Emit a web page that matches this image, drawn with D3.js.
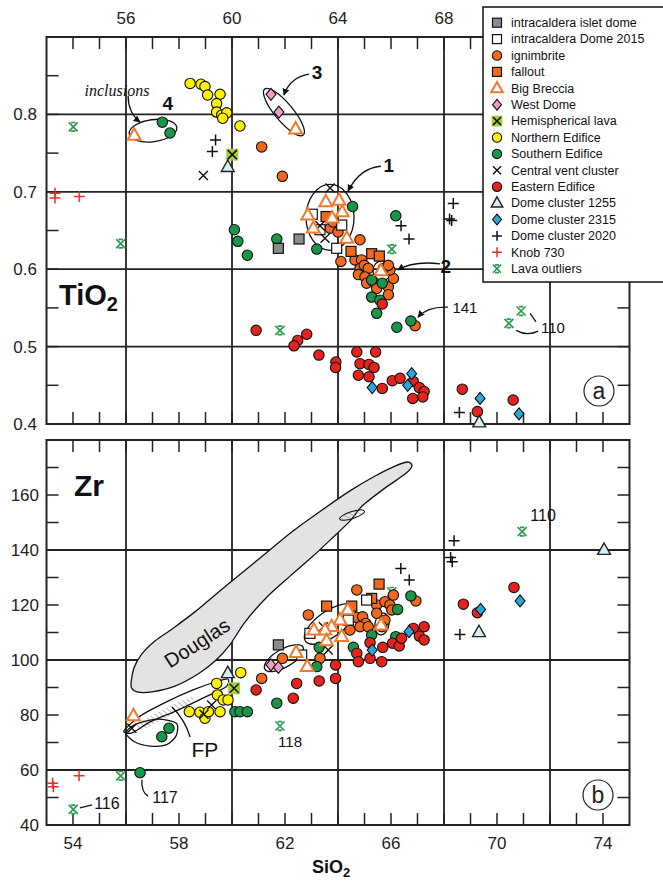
<!DOCTYPE html>
<html>
<head>
<meta charset="utf-8">
<script src="https://cdn.jsdelivr.net/npm/d3@7"></script>
<style>
  body { margin: 0; background: #fff; }
  svg { display: block; font-family: "Liberation Sans", Arial, sans-serif; }
</style>
</head>
<body>
<div id="chart"></div>
<script>
/* SiO2 variation diagrams: TiO2 (a) and Zr (b) */

// ---- data: [SiO2, TiO2] ----
const isletTi = [[62.53, 0.639], [61.75, 0.627]];
const dome2015Ti = [[63.03, 0.671], [64.14, 0.657], [63.95, 0.627], [63.32, 0.651]];
const ignimbriteTi = [[61.12, 0.758], [61.90, 0.720], [63.70, 0.653], [63.81, 0.661], [64.00, 0.648],
  [64.11, 0.610], [64.83, 0.638], [64.64, 0.612], [64.89, 0.612], [64.83, 0.601], [64.99, 0.605],
  [65.14, 0.601], [64.77, 0.593], [65.02, 0.590], [65.08, 0.582], [65.33, 0.584], [65.46, 0.575],
  [65.90, 0.577], [65.90, 0.567], [66.09, 0.588], [65.96, 0.599], [65.71, 0.601], [65.90, 0.605],
  [66.91, 0.527]];
const falloutTi = [[63.55, 0.668], [64.49, 0.623], [65.27, 0.620], [65.56, 0.617]];
const bigBrecciaTi = [[56.31, 0.773], [62.40, 0.781], [63.54, 0.687], [64.04, 0.689], [64.16, 0.674],
  [63.78, 0.666], [62.86, 0.670], [63.07, 0.653], [64.33, 0.640], [65.62, 0.598]];
const westDomeTi = [[61.47, 0.826], [61.77, 0.803]];
const hemiTi = [[60.01, 0.748]];
const northernTi = [[58.42, 0.840], [58.83, 0.839], [58.98, 0.836], [59.08, 0.825], [59.55, 0.826],
  [59.42, 0.814], [59.42, 0.803], [59.61, 0.799], [59.80, 0.802], [59.65, 0.795], [60.30, 0.785]];
const southernTi = [[57.37, 0.790], [57.66, 0.776], [60.09, 0.651], [60.22, 0.636], [60.58, 0.618],
  [61.69, 0.639], [63.20, 0.626], [64.55, 0.681], [66.18, 0.669], [65.27, 0.586], [65.67, 0.582],
  [65.27, 0.564], [65.58, 0.560], [65.46, 0.543], [66.22, 0.525], [66.75, 0.533]];
const centralTi = [[58.92, 0.721], [63.70, 0.705], [63.51, 0.640], [63.32, 0.656]];
const easternTi = [[60.91, 0.521], [62.48, 0.508], [62.82, 0.516], [62.34, 0.501], [63.28, 0.489],
  [63.92, 0.480], [63.91, 0.473], [64.71, 0.493], [65.42, 0.493], [64.83, 0.478], [65.17, 0.477],
  [65.36, 0.473], [64.77, 0.463], [65.17, 0.461], [65.67, 0.446], [66.05, 0.456], [66.34, 0.459],
  [66.84, 0.455], [67.07, 0.447], [67.25, 0.442], [67.20, 0.435], [66.82, 0.433], [65.67, 0.555],
  [68.69, 0.445], [70.61, 0.431], [69.26, 0.416]];
const dome1255Ti = [[59.84, 0.732], [69.33, 0.402]];
const dome2315Ti = [[65.29, 0.447], [66.78, 0.465], [66.63, 0.450], [69.36, 0.433], [70.83, 0.413]];
const dome2020Ti = [[59.38, 0.767], [59.26, 0.752], [66.38, 0.656], [66.68, 0.639], [68.35, 0.685],
  [68.29, 0.663], [68.21, 0.665], [68.58, 0.415]];
const knobTi = [[53.32, 0.698], [53.32, 0.692], [54.24, 0.694]];
const lavaTi = [[54.01, 0.784], [55.80, 0.633], [61.81, 0.521], [66.03, 0.626], [70.91, 0.546], [70.45, 0.530]];

// ---- data: [SiO2, Zr] ----
const isletZr = [[61.75, 105.5]];
const dome2015Zr = [[62.94, 109.7], [64.39, 114.5], [65.08, 121.8], [62.63, 101.8]];
const ignimbriteZr = [[61.12, 93.3], [61.90, 100.6], [62.88, 116.4], [63.32, 100.6], [64.71, 125.5],
  [64.71, 115.5], [64.93, 115.7], [65.05, 113.3], [64.83, 112.1], [65.14, 112.1], [65.46, 120.0],
  [65.77, 121.2], [65.96, 120.0], [66.03, 118.2], [65.46, 117.0], [65.77, 114.5], [65.65, 112.1],
  [66.94, 121.5], [66.09, 123.6], [64.45, 110.9]];
const falloutZr = [[65.55, 127.6], [65.27, 122.4], [63.57, 119.6], [64.52, 119.6]];
const bigBrecciaZr = [[56.28, 79.7], [62.42, 102.7], [62.84, 97.6], [64.37, 118.2], [64.08, 114.5],
  [63.76, 112.1], [63.51, 110.9], [63.09, 110.9], [63.57, 107.0], [64.14, 108.5], [65.62, 112.7]];
const westDomeZr = [[61.47, 98.2], [61.75, 97.3]];
const hemiZr = [[60.08, 89.7]];
const northernZr = [[58.39, 81.2], [58.79, 81.0], [58.98, 78.8], [59.11, 81.2], [59.42, 91.5],
  [59.45, 87.3], [59.67, 85.5], [59.55, 81.2], [60.33, 95.4], [59.85, 85.5]];
const southernZr = [[56.53, 59.0], [57.35, 72.1], [57.62, 75.2], [60.11, 81.2], [60.30, 81.2],
  [60.58, 81.2], [61.69, 84.3], [63.20, 97.6], [63.29, 104.6], [64.58, 104.6], [65.27, 109.1],
  [66.18, 108.5], [66.25, 118.4], [66.75, 123.3]];
const centralZr = [[56.22, 75.2], [58.94, 80.3], [59.23, 83.6], [63.63, 103.6], [63.45, 112.1]];
const easternZr = [[60.91, 89.1], [62.31, 86.1], [62.44, 91.5], [63.29, 92.4], [63.91, 98.2],
  [63.91, 93.3], [64.71, 102.4], [64.77, 99.4], [65.21, 100.6], [65.65, 99.4], [65.69, 104.6],
  [65.21, 106.3], [66.06, 106.1], [66.31, 105.1], [66.40, 107.9], [66.84, 111.5], [67.07, 108.7],
  [67.25, 112.1], [67.25, 107.3], [70.64, 126.4], [68.73, 120.3], [69.26, 117.2]];
const dome1255Zr = [[59.84, 95.2], [74.04, 140.0], [69.32, 110.1]];
const dome2315Zr = [[65.29, 103.6], [66.68, 110.3], [70.87, 121.5], [69.38, 118.4]];
const dome2020Zr = [[66.37, 133.3], [66.69, 129.1], [68.38, 143.4], [68.25, 137.3], [68.31, 135.7], [68.60, 109.3]];
const knobZr = [[53.23, 55.2], [53.26, 53.9], [54.23, 57.9]];
const lavaZr = [[54.01, 45.7], [55.80, 57.9], [61.81, 76.0], [66.03, 124.8], [70.95, 146.7]];

// ---- envelopes (SiO2, Zr) ----
const douglasZr = [[56.19, 90.5], [56.30, 97.1], [56.60, 102.2], [57.09, 106.9], [57.74, 111.3],
  [58.60, 117.5], [59.81, 127.3], [61.06, 137.1], [62.30, 146.9], [63.51, 155.3], [64.45, 161.5],
  [65.40, 166.9], [66.15, 170.5], [66.64, 172.0], [66.79, 170.5], [66.53, 167.6], [65.77, 162.5],
  [64.91, 156.0], [64.45, 150.5], [63.70, 143.6], [63.06, 137.8], [62.19, 130.5], [61.32, 122.9],
  [60.49, 113.8], [59.92, 105.5], [59.36, 99.6], [58.72, 94.9], [57.85, 90.5], [56.98, 88.4], [56.42, 88.4]];
const fpZr = [[55.92, 74.2], [56.53, 79.6], [57.51, 84.7], [58.53, 89.1], [59.36, 92.0], [59.85, 93.1],
  [59.77, 90.2], [58.98, 86.5], [57.96, 81.8], [56.91, 77.5], [56.23, 73.5]];
const fpHatchZr = [[56.4, 76.5], [57.2, 81.0], [58.1, 85.2], [58.6, 86.8], [58.3, 83.5], [57.5, 79.0], [56.7, 75.0]];
const inclusionLoopZr = [[56.0, 73.5], [56.34, 70.2], [56.91, 68.7], [57.51, 69.1], [57.89, 72.4], [57.9, 77.0], [57.2, 78.5], [56.4, 76.8]];

// ---- axis ticks ----
const xLabelsTop = [56, 60, 64, 68];
const xLabelsBottom = [54, 58, 62, 66, 70, 74];
const xGrid = [56, 60, 64, 68, 72];
const tiLabels = [0.4, 0.5, 0.6, 0.7, 0.8];
const tiGrid = [0.5, 0.6, 0.7, 0.8];
const zrLabels = [40, 60, 80, 100, 120, 140, 160];
const zrGrid = [60, 100, 140];

const legendNames = ["intracaldera islet dome", "intracaldera Dome 2015", "ignimbrite", "fallout",
  "Big Breccia", "West Dome", "Hemispherical lava", "Northern Edifice", "Southern Edifice",
  "Central vent cluster", "Eastern Edifice", "Dome cluster 1255", "Dome cluster 2315",
  "Dome cluster 2020", "Knob 730", "Lava outliers"];

// ---- layout ----
const W = 663, H = 883;
const svg = d3.select("#chart").append("svg").attr("width", W).attr("height", H);

const x = d3.scaleLinear().domain([53, 75]).range([46.5, 629.5]);
const yTi = d3.scaleLinear().domain([0.4, 0.9]).range([424, 37]);
const yZr = d3.scaleLinear().domain([40, 180]).range([825, 440]);

const defs = svg.append("defs");
defs.append("pattern")
  .attr("id", "hatch").attr("patternUnits", "userSpaceOnUse")
  .attr("width", 4).attr("height", 4).attr("patternTransform", "rotate(-50)")
  .append("line").attr("x1", 0).attr("y1", 0).attr("x2", 0).attr("y2", 4)
  .attr("stroke", "#8a8a8a").attr("stroke-width", 1.2);
defs.append("marker")
  .attr("id", "arrow").attr("viewBox", "0 0 10 10").attr("refX", 9).attr("refY", 5)
  .attr("markerWidth", 7).attr("markerHeight", 7).attr("orient", "auto-start-reverse")
  .attr("markerUnits", "userSpaceOnUse")
  .append("path").attr("d", "M0,0L10,5L0,10Z").attr("fill", "#111");

const styles = {
  islet: { shape: "square", fill: "#8c8c8c", stroke: "#111" },
  dome2015: { shape: "square", fill: "#fff", stroke: "#111" },
  ignimbrite: { shape: "circle", fill: "#f2681d", stroke: "#111" },
  fallout: { shape: "square", fill: "#f2681d", stroke: "#111" },
  bigBreccia: { shape: "triangle", fill: "#fff", stroke: "#f07a2c", sw: 2 },
  westDome: { shape: "diamond", fill: "#f49ac4", stroke: "#111" },
  hemi: { shape: "hemi", fill: "#a6cf3a", stroke: "#111" },
  northern: { shape: "circle", fill: "#fff200", stroke: "#111" },
  southern: { shape: "circle", fill: "#19964a", stroke: "#111" },
  central: { shape: "x", stroke: "#111" },
  eastern: { shape: "circle", fill: "#e3231c", stroke: "#111" },
  d1255: { shape: "triangle", fill: "#d6eef4", stroke: "#222", sw: 1.4 },
  d2315: { shape: "diamond", fill: "#2ba6dd", stroke: "#111" },
  d2020: { shape: "plus", stroke: "#111" },
  knob: { shape: "plus", stroke: "#e3332a" },
  lava: { shape: "aster", stroke: "#2e9b4f" }
};
const legendKeys = ["islet", "dome2015", "ignimbrite", "fallout", "bigBreccia", "westDome", "hemi",
  "northern", "southern", "central", "eastern", "d1255", "d2315", "d2020", "knob", "lava"];

function drawSymbol(g, st, k) {
  k = k || 1;
  const s = v => v * k;
  if (st.shape === "circle") {
    g.append("circle").attr("r", s(5.2)).attr("fill", st.fill).attr("stroke", st.stroke).attr("stroke-width", 1.1);
  } else if (st.shape === "square") {
    g.append("rect").attr("x", s(-5)).attr("y", s(-5)).attr("width", s(10)).attr("height", s(10))
      .attr("fill", st.fill).attr("stroke", st.stroke).attr("stroke-width", 1.2);
  } else if (st.shape === "triangle") {
    g.append("path").attr("d", `M0,${s(-7)}L${s(6.4)},${s(4.4)}L${s(-6.4)},${s(4.4)}Z`)
      .attr("fill", st.fill).attr("stroke", st.stroke).attr("stroke-width", st.sw || 1.2).attr("stroke-linejoin", "miter");
  } else if (st.shape === "diamond") {
    g.append("path").attr("d", `M0,${s(-6)}L${s(5)},0L0,${s(6)}L${s(-5)},0Z`)
      .attr("fill", st.fill).attr("stroke", st.stroke).attr("stroke-width", 1.1);
  } else if (st.shape === "hemi") {
    g.append("rect").attr("x", s(-6)).attr("y", s(-6)).attr("width", s(12)).attr("height", s(12)).attr("fill", st.fill);
    g.append("path").attr("d", `M${s(-4.5)},${s(-4.5)}L${s(4.5)},${s(4.5)}M${s(-4.5)},${s(4.5)}L${s(4.5)},${s(-4.5)}`)
      .attr("stroke", st.stroke).attr("stroke-width", 1.5);
  } else if (st.shape === "x") {
    g.append("path").attr("d", `M${s(-4.5)},${s(-4.5)}L${s(4.5)},${s(4.5)}M${s(-4.5)},${s(4.5)}L${s(4.5)},${s(-4.5)}`)
      .attr("stroke", st.stroke).attr("stroke-width", 1.4);
  } else if (st.shape === "plus") {
    g.append("path").attr("d", `M${s(-5.5)},0H${s(5.5)}M0,${s(-5.5)}V${s(5.5)}`)
      .attr("stroke", st.stroke).attr("stroke-width", 1.5);
  } else if (st.shape === "aster") {
    g.append("path").attr("d", `M${s(-4.5)},${s(-4.5)}L${s(4.5)},${s(4.5)}M${s(-4.5)},${s(4.5)}L${s(4.5)},${s(-4.5)}M${s(-2.2)},${s(-4.3)}H${s(2.2)}M${s(-2.2)},${s(4.3)}H${s(2.2)}`)
      .attr("stroke", st.stroke).attr("stroke-width", 1.7);
  }
}

function drawSeries(layer, y, data, key) {
  data.forEach(d => {
    const g = layer.append("g").attr("transform", `translate(${x(d[0])},${y(d[1])})`);
    drawSymbol(g, styles[key]);
  });
}

function frame(y, top, bottom, gridY, minorY) {
  const g = svg.append("g").attr("stroke", "#222").attr("fill", "none");
  const x0 = x.range()[0], x1 = x.range()[1];
  // grid
  xGrid.forEach(v => g.append("line").attr("x1", x(v)).attr("x2", x(v)).attr("y1", top).attr("y2", bottom).attr("stroke-width", 1.8));
  gridY.forEach(v => g.append("line").attr("x1", x0).attr("x2", x1).attr("y1", y(v)).attr("y2", y(v)).attr("stroke-width", 1.8));
  // minor ticks, inward
  d3.range(54, 75).forEach(v => {
    g.append("line").attr("x1", x(v)).attr("x2", x(v)).attr("y1", bottom).attr("y2", bottom - 12).attr("stroke-width", 1.5);
    g.append("line").attr("x1", x(v)).attr("x2", x(v)).attr("y1", top).attr("y2", top + 12).attr("stroke-width", 1.5);
  });
  minorY.forEach(v => {
    g.append("line").attr("x1", x0).attr("x2", x0 + 12).attr("y1", y(v)).attr("y2", y(v)).attr("stroke-width", 1.5);
    g.append("line").attr("x1", x1).attr("x2", x1 - 12).attr("y1", y(v)).attr("y2", y(v)).attr("stroke-width", 1.5);
  });
  g.append("rect").attr("x", x0).attr("y", top).attr("width", x1 - x0).attr("height", bottom - top).attr("stroke-width", 2);
}

// ---- panel a: TiO2 ----
const topA = yTi(0.9), botA = yTi(0.4);
frame(yTi, topA, botA, tiGrid, d3.range(0.45, 0.9, 0.05));

svg.append("g").selectAll("text").data(tiLabels).join("text")
  .attr("x", 37).attr("y", d => yTi(d) + 6).attr("text-anchor", "end")
  .attr("font-size", 17).attr("fill", "#222").text(d => d.toFixed(1));
svg.append("g").selectAll("text").data(xLabelsTop).join("text")
  .attr("x", d => x(d)).attr("y", 24).attr("text-anchor", "middle")
  .attr("font-size", 17).attr("fill", "#222").text(d => d);

const ann = svg.append("g").attr("fill", "none").attr("stroke", "#111").attr("stroke-width", 1.3);
function ellipse(layer, y, c, rx, ry, rot) {
  layer.append("ellipse").attr("cx", 0).attr("cy", 0).attr("rx", rx).attr("ry", ry)
    .attr("transform", `translate(${x(c[0])},${y(c[1])}) rotate(${rot})`);
}
ellipse(ann, yTi, [63.70, 0.667], 24, 33, 0);
ellipse(ann, yTi, [61.96, 0.803], 30, 9, 50);
ellipse(ann, yTi, [57.02, 0.779], 24, 11, -8);
ellipse(ann, yTi, [65.66, 0.598], 9, 10, 0);

const curve = (y, p) => `M${x(p[0])},${y(p[1])}Q${x(p[2])},${y(p[3])} ${x(p[4])},${y(p[5])}`;
const arrowsTi = [
  [56.08, 0.824, 56.08, 0.802, 56.53, 0.790],
  [62.91, 0.852, 62.19, 0.848, 61.96, 0.825],
  [65.62, 0.733, 64.83, 0.731, 64.38, 0.701],
  [67.85, 0.607, 66.83, 0.611, 66.26, 0.599],
  [68.15, 0.551, 67.36, 0.552, 67.02, 0.538]
];
arrowsTi.forEach(p => ann.append("path").attr("d", curve(yTi, p)).attr("marker-end", "url(#arrow)"));
ann.append("path").attr("d", `M${x(71.25)},${yTi(0.543)}L${x(71.47)},${yTi(0.532)}`);
ann.append("path").attr("d", curve(yTi, [70.72, 0.521, 71.13, 0.513, 71.55, 0.520]));

const ptsA = svg.append("g");
drawSeries(ptsA, yTi, lavaTi, "lava");
drawSeries(ptsA, yTi, knobTi, "knob");
drawSeries(ptsA, yTi, ignimbriteTi, "ignimbrite");
drawSeries(ptsA, yTi, falloutTi, "fallout");
drawSeries(ptsA, yTi, southernTi, "southern");
drawSeries(ptsA, yTi, easternTi, "eastern");
drawSeries(ptsA, yTi, northernTi, "northern");
drawSeries(ptsA, yTi, isletTi, "islet");
drawSeries(ptsA, yTi, dome2015Ti, "dome2015");
drawSeries(ptsA, yTi, westDomeTi, "westDome");
drawSeries(ptsA, yTi, hemiTi, "hemi");
drawSeries(ptsA, yTi, dome1255Ti, "d1255");
drawSeries(ptsA, yTi, dome2315Ti, "d2315");
drawSeries(ptsA, yTi, dome2020Ti, "d2020");
drawSeries(ptsA, yTi, centralTi, "central");
drawSeries(ptsA, yTi, bigBrecciaTi, "bigBreccia");

const labelsTi = [
  { t: "4", p: [57.58, 0.815], bold: true, size: 19 },
  { t: "3", p: [63.21, 0.855], bold: true, size: 19 },
  { t: "1", p: [65.92, 0.735], bold: true, size: 19 },
  { t: "2", p: [68.07, 0.604], bold: true, size: 19 },
  { t: "141", p: [68.79, 0.551], size: 15 },
  { t: "110", p: [72.11, 0.524], size: 15 }
];
labelsTi.forEach(l => svg.append("text").attr("x", x(l.p[0])).attr("y", yTi(l.p[1]))
  .attr("dy", "0.36em").attr("text-anchor", "middle").attr("font-size", l.size)
  .attr("font-weight", l.bold ? "bold" : "normal").attr("fill", "#111").text(l.t));
svg.append("text").attr("x", x(55.66)).attr("y", yTi(0.830)).attr("dy", "0.3em")
  .attr("text-anchor", "middle").attr("font-family", "'Liberation Serif', 'DejaVu Serif', serif")
  .attr("font-style", "italic").attr("font-size", 16).attr("fill", "#111").text("inclusions");

const tio2 = svg.append("text").attr("x", 59).attr("y", 305).attr("font-size", 29)
  .attr("font-weight", "bold").attr("fill", "#111");
tio2.append("tspan").text("TiO");
tio2.append("tspan").attr("font-size", 20).attr("dy", 6).text("2");

svg.append("circle").attr("cx", 599).attr("cy", 391).attr("r", 15).attr("fill", "#fff").attr("stroke", "#222").attr("stroke-width", 1.2);
svg.append("text").attr("x", 599).attr("y", 391).attr("dy", "0.33em").attr("text-anchor", "middle").attr("font-size", 23).attr("fill", "#222").text("a");

// ---- panel b: Zr ----
const topB = yZr(180), botB = yZr(40);
frame(yZr, topB, botB, zrGrid, d3.range(50, 180, 10));

svg.append("g").selectAll("text").data(zrLabels).join("text")
  .attr("x", 39).attr("y", d => yZr(d) + 6).attr("text-anchor", "end")
  .attr("font-size", 17).attr("fill", "#222").text(d => d);
svg.append("g").selectAll("text").data(xLabelsBottom).join("text")
  .attr("x", d => x(d)).attr("y", 849).attr("text-anchor", "middle")
  .attr("font-size", 17).attr("fill", "#222").text(d => d);

const sio2 = svg.append("text").attr("x", 331).attr("y", 873).attr("text-anchor", "middle")
  .attr("font-size", 18).attr("font-weight", "bold").attr("fill", "#111");
sio2.append("tspan").text("SiO");
sio2.append("tspan").attr("font-size", 13).attr("dy", 4).text("2");

svg.append("text").attr("x", 74).attr("y", 496).attr("font-size", 30)
  .attr("font-weight", "bold").attr("fill", "#111").text("Zr");

const env = svg.append("g");
const closed = y => d3.line().x(d => x(d[0])).y(d => y(d[1])).curve(d3.curveCardinalClosed.tension(0.2));
env.append("path").attr("d", closed(yZr)(douglasZr)).attr("fill", "#e3e3e3").attr("stroke", "#111").attr("stroke-width", 1.3);
env.append("ellipse").attr("rx", 13).attr("ry", 3.5)
  .attr("transform", `translate(${x(64.53)},${yZr(152.7)}) rotate(-18)`)
  .attr("fill", "url(#hatch)").attr("stroke", "#111").attr("stroke-width", 1);
env.append("path").attr("d", closed(yZr)(fpHatchZr)).attr("fill", "url(#hatch)").attr("stroke", "none");
env.append("path").attr("d", closed(yZr)(fpZr)).attr("fill", "none").attr("stroke", "#111").attr("stroke-width", 1.3);
env.append("path").attr("d", closed(yZr)(inclusionLoopZr)).attr("fill", "none").attr("stroke", "#111").attr("stroke-width", 1.3);
env.append("text").attr("transform", `translate(${x(58.68)},${yZr(106.2)}) rotate(-33)`)
  .attr("text-anchor", "middle").attr("dy", "0.35em").attr("font-size", 20).attr("fill", "#111").text("Douglas");

const annB = svg.append("g").attr("fill", "none").attr("stroke", "#111").attr("stroke-width", 1.3);
ellipse(annB, yZr, [63.70, 113.1], 30, 13, -35);
ellipse(annB, yZr, [61.96, 100.7], 22, 9, -30);
ellipse(annB, yZr, [65.66, 113.1], 7, 11, 10);
annB.append("path").attr("d", `M${x(54.26)},${yZr(46.2)}L${x(54.72)},${yZr(47.3)}`);
annB.append("path").attr("d", curve(yZr, [56.60, 56.4, 56.57, 52.0, 56.83, 50.5]));
annB.append("path").attr("d", curve(yZr, [58.42, 72.0, 58.23, 78.2, 57.74, 82.9]));

const ptsB = svg.append("g");
drawSeries(ptsB, yZr, lavaZr, "lava");
drawSeries(ptsB, yZr, knobZr, "knob");
drawSeries(ptsB, yZr, ignimbriteZr, "ignimbrite");
drawSeries(ptsB, yZr, falloutZr, "fallout");
drawSeries(ptsB, yZr, southernZr, "southern");
drawSeries(ptsB, yZr, easternZr, "eastern");
drawSeries(ptsB, yZr, northernZr, "northern");
drawSeries(ptsB, yZr, isletZr, "islet");
drawSeries(ptsB, yZr, dome2015Zr, "dome2015");
drawSeries(ptsB, yZr, westDomeZr, "westDome");
drawSeries(ptsB, yZr, hemiZr, "hemi");
drawSeries(ptsB, yZr, dome1255Zr, "d1255");
drawSeries(ptsB, yZr, dome2315Zr, "d2315");
drawSeries(ptsB, yZr, dome2020Zr, "d2020");
drawSeries(ptsB, yZr, centralZr, "central");
drawSeries(ptsB, yZr, bigBrecciaZr, "bigBreccia");

const labelsZr = [
  { t: "116", p: [55.28, 48.0], size: 16 },
  { t: "117", p: [57.47, 50.2], size: 16 },
  { t: "118", p: [62.19, 70.5], size: 15 },
  { t: "110", p: [71.74, 152.7], size: 16 },
  { t: "FP", p: [58.98, 67.3], size: 21 }
];
labelsZr.forEach(l => svg.append("text").attr("x", x(l.p[0])).attr("y", yZr(l.p[1]))
  .attr("dy", "0.36em").attr("text-anchor", "middle").attr("font-size", l.size).attr("fill", "#111").text(l.t));

svg.append("circle").attr("cx", 598).attr("cy", 795).attr("r", 15).attr("fill", "#fff").attr("stroke", "#222").attr("stroke-width", 1.2);
svg.append("text").attr("x", 598).attr("y", 795).attr("dy", "0.33em").attr("text-anchor", "middle").attr("font-size", 23).attr("fill", "#222").text("b");

// ---- legend ----
const lg = svg.append("g");
lg.append("rect").attr("x", 483).attr("y", 7).attr("width", 200).attr("height", 275)
  .attr("fill", "#fff").attr("stroke", "#111").attr("stroke-width", 1.5);
legendKeys.forEach((k, i) => {
  const row = lg.append("g").attr("transform", `translate(0,${22.7 + i * 16.4})`);
  drawSymbol(row.append("g").attr("transform", "translate(497,0)"), styles[k], 0.9);
  row.append("text").attr("x", 511).attr("dy", "0.35em").attr("font-size", 12.5).attr("fill", "#111").text(legendNames[i]);
});
</script>
</body>
</html>
